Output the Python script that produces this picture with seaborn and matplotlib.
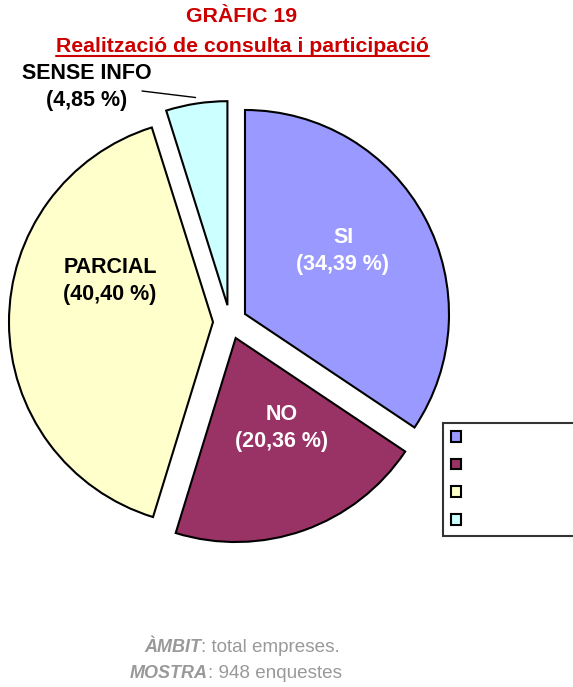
import numpy as np
import matplotlib
matplotlib.use('Agg')
import matplotlib.pyplot as plt
import seaborn as sns

sns.set_theme(style='white')
plt.rcParams['font.family'] = ['Liberation Sans', 'DejaVu Sans']

# data
categories = ['SI', 'NO', 'PARCIAL', 'SENSE INFO']
percent = [34.39, 20.36, 40.40, 4.85]
label_txt = ['SI\n(34,39 %)', 'NO\n(20,36 %)', 'PARCIAL\n(40,40 %)', 'SENSE INFO\n(4,85 %)']
colors = sns.color_palette(['#9999FF', '#993366', '#FFFFCC', '#CCFFFF'])

W, H = 573, 687
fig = plt.figure(figsize=(W / 100, H / 100), dpi=100)
ax = fig.add_axes([0, 0, 1, 1])

R = 204
cx, cy = 230, H - 322
wedges, _ = ax.pie(percent, colors=colors, startangle=90, counterclock=False,
                   radius=R, center=(cx, cy), explode=[17] * 4,
                   wedgeprops=dict(edgecolor='black', linewidth=1.5))
ax.set_xlim(0, W)
ax.set_ylim(0, H)
ax.set_aspect('equal')
ax.axis('off')

# slice labels
lab_pos = [(343, 251), (282, 428), (110, 281), (87, 87)]
lab_col = ['white', 'white', 'black', 'black']
for t, (x, y), c in zip(label_txt, lab_pos, lab_col):
    ax.text(x, H - y, t, ha='center', va='center', fontsize=15.5, fontweight='bold',
            color=c, linespacing=1.4)

# leader line for the small slice
w = wedges[3]
th = np.deg2rad((w.theta1 + w.theta2) / 2)
ax.plot([142, w.center[0] + R * 1.03 * np.cos(th)],
        [H - 91, w.center[1] + R * 1.03 * np.sin(th)], color='black', lw=1)

# titles
fig.text(242 / W, 1 - 17 / H, 'GRÀFIC 19', ha='center', va='center',
         fontsize=15.3, fontweight='bold', color='#CC0000')
fig.text(242 / W, 1 - 46 / H, 'Realització de consulta i participació',
         ha='center', va='center', fontsize=15.3, fontweight='bold', color='#CC0000')
ax.plot([56, 429], [H - 56, H - 56], color='#CC0000', lw=1.5)

# legend with empty labels
ax.legend(wedges, [' ' * 40] * 4, loc='upper left',
          bbox_to_anchor=(443 / W, 1 - 423 / H), borderaxespad=0, frameon=True,
          fancybox=False, edgecolor='black', fontsize=11, handlelength=0.7,
          handleheight=0.7, labelspacing=0.9, borderpad=0.5, handletextpad=0.5)
ax.get_legend().get_frame().set_linewidth(1.5)

# footer
grey = '#999999'
fig.text(201 / W, 1 - 648 / H, 'ÀMBIT', ha='right', va='center', fontsize=13,
         fontweight='bold', fontstyle='italic', color=grey)
fig.text(201 / W, 1 - 648 / H, ': total empreses.', ha='left', va='center',
         fontsize=13.6, color=grey)
fig.text(208 / W, 1 - 674 / H, 'MOSTRA', ha='right', va='center', fontsize=13,
         fontweight='bold', fontstyle='italic', color=grey)
fig.text(208 / W, 1 - 674 / H, ': 948 enquestes', ha='left', va='center',
         fontsize=13.6, color=grey)

fig.savefig('out.png', dpi=100)
